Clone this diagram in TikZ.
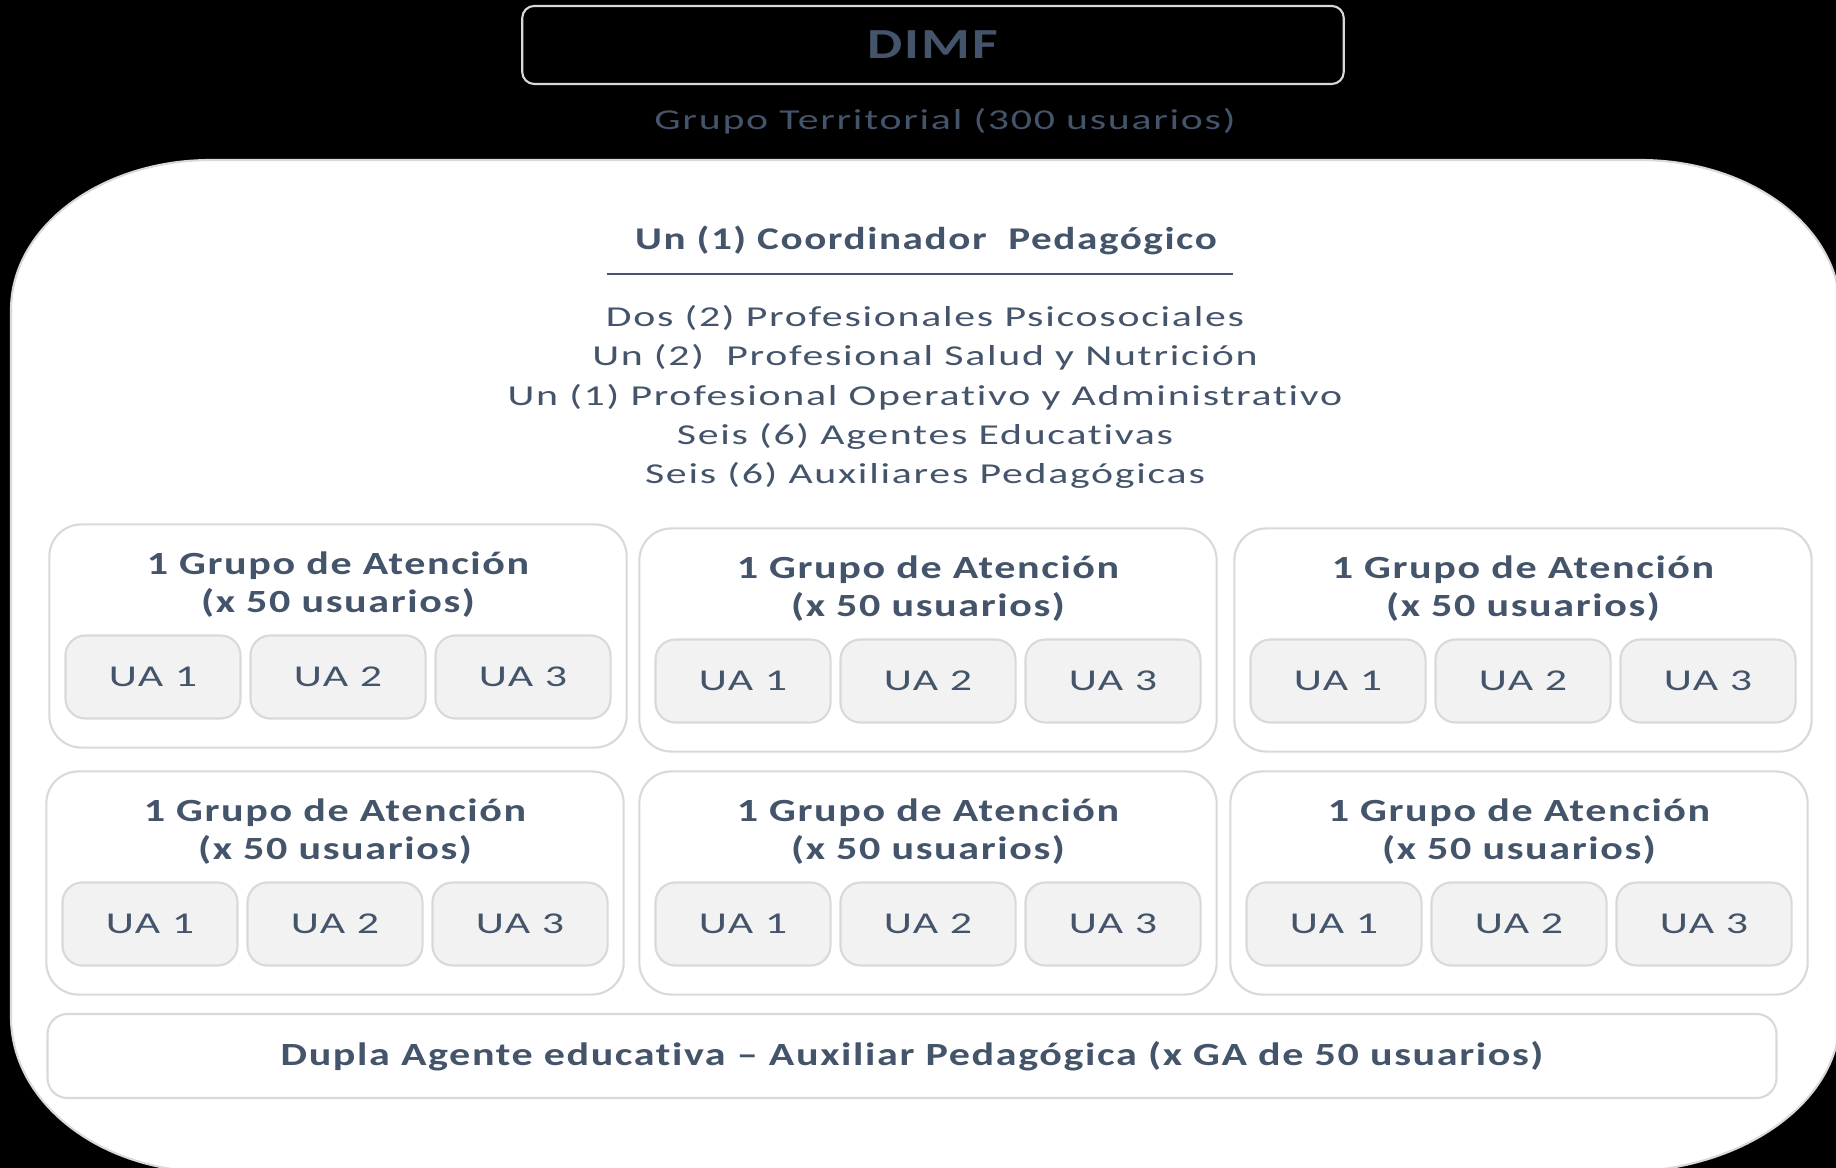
\documentclass[tikz,border=0pt]{standalone}
\usepackage{fontspec}
\setmainfont{Carlito}[Ligatures={TeX,NoCommon},
  UprightFeatures={FakeStretch=1.45, LetterSpace=6},
  BoldFeatures={FakeStretch=1.3, LetterSpace=5}]
\definecolor{pizarra}{HTML}{44546A}
\definecolor{bordegris}{HTML}{D9D9D9}
\definecolor{fondoua}{HTML}{F2F2F2}
\tikzset{
  gabox/.style={draw=bordegris, line width=0.6pt, fill=white, rounded corners=0.32cm,
    minimum width=5.77cm, minimum height=2.23cm},
  uabox/.style={draw=bordegris, line width=0.6pt, fill=fondoua, rounded corners=0.2cm,
    minimum width=1.75cm, minimum height=0.83cm, text=pizarra,
    font=\fontsize{8.6}{10}\selectfont},
  titulo/.style={text=pizarra, align=center, font=\bfseries\fontsize{9.2}{10.8}\selectfont},
  texto/.style={text=pizarra, align=center, font=\fontsize{8.2}{11.2}\selectfont},
}
\begin{document}
\begin{tikzpicture}[x=0.01cm, y=-0.01cm]
    % 背景
    \useasboundingbox (0,0) rectangle (1836,1168);
    \clip (0,0) rectangle (1836,1168);
    \fill[black] (0,0) rectangle (1836,1168);

    % 顶部的框和标题
    \node (dimf) at (933,45) [draw=white!85!black, line width=0.6pt, rounded corners=0.12cm,
      minimum width=8.21cm, minimum height=0.78cm, text=pizarra,
      font=\bfseries\fontsize{12.2}{13}\selectfont] {DIMF};
    \node (territorial) at (945,121) [texto] {Grupo Territorial (300 usuarios)};

    % 白色的大圆角区域
    \draw[bordegris, fill=white, line width=0.6pt] (211,160) -- (1640,160)
      .. controls (1750.5,160) and (1840,227.2) .. (1840,310) -- (1840,1017)
      .. controls (1840,1102.6) and (1741.5,1172) .. (1620,1172) -- (211,1172)
      .. controls (100.5,1172) and (11,1102.6) .. (11,1017) -- (11,310)
      .. controls (11,227.2) and (100.5,160) .. (211,160) -- cycle;

    % 协调员和人员
    \node (coord) at (926,240) [titulo, font=\bfseries\fontsize{9}{10.8}\selectfont]
      {Un (1) Coordinador\ \ Pedagógico};
    \coordinate (linea-a) at (607,274);
    \coordinate (linea-b) at (1233,274);
    \draw[pizarra, line width=0.5pt] (linea-a) -- (linea-b);
    \node (equipo) at (925,397) [texto] {Dos (2) Profesionales Psicosociales\\
      Un (2)\ \ Profesional Salud y Nutrición\\
      Un (1) Profesional Operativo y Administrativo\\
      Seis (6) Agentes Educativas\\
      Seis (6) Auxiliares Pedagógicas};

    % 六个服务组
    \foreach \g/\cx/\cy in {1/338/636, 2/928/640, 3/1523/640, 4/335/883, 5/928/883, 6/1519/883} {
      \node (ga\g) at (\cx,\cy) [gabox] {};
      \node (ga\g-t) at (\cx,{\cy-51}) [titulo] {1 Grupo de Atención\\(x 50 usuarios)};
      \node (ga\g-ua1) at ({\cx-185},{\cy+41}) [uabox] {UA 1};
      \node (ga\g-ua2) at (\cx,{\cy+41}) [uabox] {UA 2};
      \node (ga\g-ua3) at ({\cx+185},{\cy+41}) [uabox] {UA 3};
    }

    % 底部的框
    \node (dupla) at (912,1056) [draw=bordegris, line width=0.6pt, rounded corners=0.2cm,
      minimum width=17.28cm, minimum height=0.84cm, titulo]
      {Dupla Agente educativa – Auxiliar Pedagógica (x GA de 50 usuarios)};
\end{tikzpicture}
\end{document}
